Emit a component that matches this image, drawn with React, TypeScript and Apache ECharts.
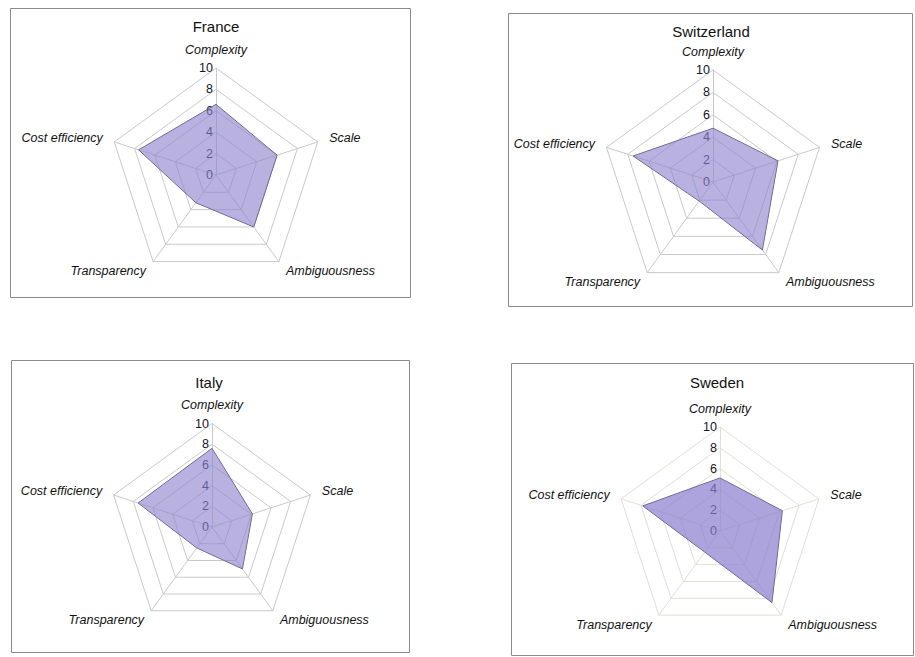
import React, { useEffect, useRef } from "react";
import * as echarts from "echarts";

// Indicators in ECharts order (counter-clockwise from top)
const indicators = ["Complexity", "Cost efficiency", "Transparency", "Ambiguousness", "Scale"];
const tickMax = 10;
const tickSplits = 5;

const countries = ["France", "Switzerland", "Italy", "Sweden"];
const franceValues = [6.6, 7.6, 3.2, 6.0, 6.0];
const switzerlandValues = [4.8, 7.5, 2.1, 7.5, 6.1];
const italyValues = [7.6, 7.5, 2.5, 5.0, 4.1];
const swedenValues = [5.1, 7.8, 2.5, 8.5, 6.3];
const allValues = [franceValues, switzerlandValues, italyValues, swedenValues];

// layout (px)
const panels = [
  { box: [10, 8, 400, 289], center: [216, 175], radius: 107, title: [216, 26] },
  { box: [508, 13, 404, 293], center: [713, 182], radius: 112, title: [711, 31] },
  { box: [11, 360, 398, 292], center: [212, 527], radius: 103.5, title: [209, 382] },
  { box: [511, 363, 402, 292], center: [720, 531], radius: 104, title: [717, 382] },
];

const FONT = "'Liberation Sans', Arial, sans-serif";

export default function App() {
  const ref = useRef<HTMLDivElement>(null);
  useEffect(() => {
    if (!ref.current) return;
    const chart = echarts.init(ref.current, undefined, { renderer: "svg" });
    const radar = panels.map((p, i) => ({
      center: p.center,
      radius: p.radius,
      startAngle: 90,
      shape: "polygon",
      splitNumber: tickSplits,
      nameGap: 12,
      axisName: {
        color: "#111",
        fontStyle: "italic",
        fontSize: 12.5,
        fontFamily: FONT,
      },
      indicator: indicators.map((name, k) => ({
        name,
        max: tickMax,
        min: 0,
        axisLabel:
          k === 0
            ? { show: true, color: "#15152a", fontSize: 12.5, fontFamily: FONT, margin: 3 }
            : { show: false },
      })),
      axisLabel: { show: false },
      axisTick: { show: false },
      axisLine: { lineStyle: { color: i === 3 ? "#e2ded6" : "#c9c9c9", width: 1 } },
      splitLine: { lineStyle: { color: i === 3 ? "#e2ded6" : "#c9c9c9", width: 1 } },
      splitArea: { show: false },
    }));
    const series = allValues.map((vals, i) => ({
      type: "radar",
      radarIndex: i,
      name: countries[i],
      symbol: "none",
      lineStyle: { color: "#5f5c78", width: 1 },
      areaStyle: { color: i === 3 ? "#8a7ecf" : "#9085cf", opacity: i === 3 ? 0.7 : 0.63 },
      data: [{ value: vals, name: countries[i] }],
    }));
    const graphic: any[] = [];
    panels.forEach((p, i) => {
      graphic.push({
        type: "rect",
        shape: { x: p.box[0] + 0.5, y: p.box[1] + 0.5, width: p.box[2], height: p.box[3] },
        style: { fill: "none", stroke: "#8a8a8a", lineWidth: 1 },
        silent: true,
      });
      graphic.push({
        type: "text",
        x: p.title[0],
        y: p.title[1],
        style: {
          text: countries[i],
          fontSize: 15,
          fontFamily: FONT,
          fill: "#111",
          textAlign: "center",
          textVerticalAlign: "middle",
        },
        silent: true,
      });
    });
    chart.setOption({
      animation: false,
      backgroundColor: "#ffffff",
      radar,
      series,
      graphic,
    });
    return () => chart.dispose();
  }, []);
  return (
    <div
      ref={ref}
      style={{ position: "absolute", left: 0, top: 0, width: 915, height: 657 }}
    />
  );
}
